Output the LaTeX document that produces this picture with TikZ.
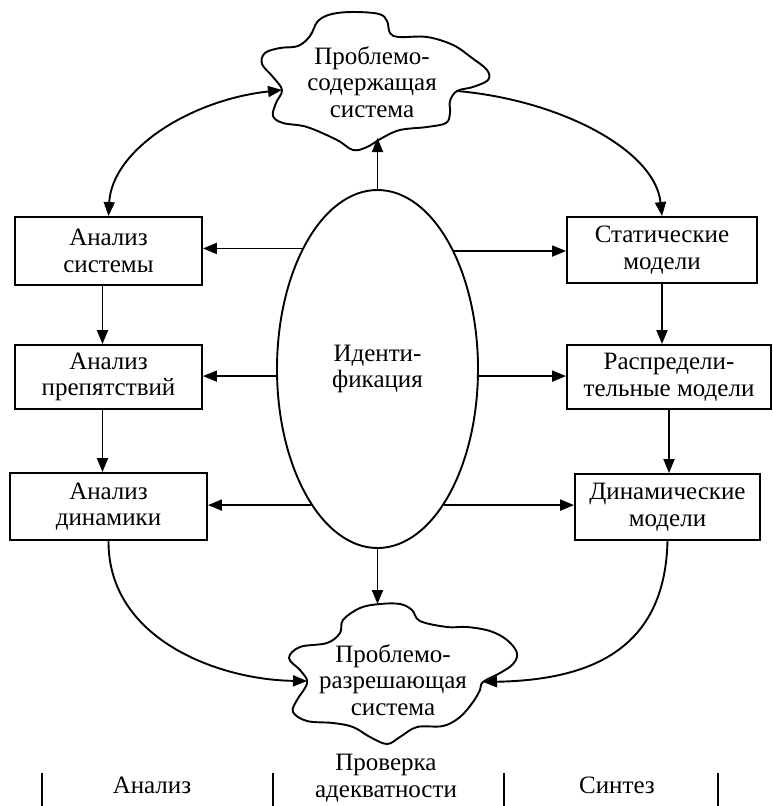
\documentclass[tikz,border=0pt]{standalone}
\usepackage{fontspec}
\setmainfont{Liberation Serif}
\usetikzlibrary{arrows.meta,shapes.geometric}
\begin{document}
\begin{tikzpicture}[x=1pt,y=-1pt,
  line width=1.9pt,
  tip/.tip={Triangle[length=14pt,width=11pt]},
  arr/.style={-{tip}},
  txt/.style={align=center, font=\fontsize{25}{26.5}\selectfont},
  box/.style={draw, txt, inner sep=0pt},
  cloud/.style={line width=1.9pt},
  ]
\useasboundingbox (0,0) rectangle (773,806);

% boxes
\node[box, minimum width=187pt, minimum height=68pt] (b1) at (108.5,251) {Анализ\\системы};
\node[box, minimum width=187pt, minimum height=64pt] (b2) at (108.5,377) {Анализ\\препятствий};
\node[box, minimum width=197pt, minimum height=67pt] (b3) at (108.5,506.5) {Анализ\\динамики};
\node[box, minimum width=190pt, minimum height=66pt] (r1) at (662,250) {Статические\\модели};
\node[box, minimum width=204pt, minimum height=64pt] (r2) at (669,377) {Распредели-\\тельные модели};
\node[box, minimum width=185pt, minimum height=66pt] (r3) at (667.5,507) {Динамические\\модели};

% ellipse
\node[draw, ellipse, minimum width=201pt, minimum height=358pt, inner sep=0pt, txt] (e) at (377.5,369) {Иденти-\\фикация};

% top cloud
\draw[cloud] plot[smooth cycle, tension=0.6] coordinates {
 (282,90) (273,77) (262,64) (265,53) (280,48) (298,46) (310,36) (318,21) (332,14) (354,12) (379,14) (387,21) (390,33) (399,37) (427,37) (453,45) (472,58) (487,70) (488,80) (473,87) (457,91) (450,101) (450,113) (446,123) (427,127) (400,130) (382,138) (367,147) (353,150) (337,140) (307,127) (283,123) (273,116) (276,103)};
\node[txt] (tc) at (372,82) {Проблемо-\\содержащая\\система};
\coordinate (tL) at (282,90);
\coordinate (tR) at (457,91);
\coordinate (tB) at (380,138);

% bottom cloud
\draw[cloud] plot[smooth cycle, tension=0.6] coordinates {
 (380,604) (400,604) (412,610) (420,621) (447,627) (467,627) (490,631) (507,640) (517,653) (513,664) (500,673) (483,682) (480,690) (473,702) (460,717) (443,726) (417,727) (400,737) (387,744) (370,737) (353,727) (333,723) (307,721) (293,712) (297,700) (305,688) (307,680) (300,670) (289,658) (300,647) (327,643) (340,633) (343,620) (360,608)};
\node[txt] (bc) at (393,680) {Проблемо-\\разрешающая\\система};
\coordinate (bT) at (380,604);
\coordinate (bL) at (307,681);
\coordinate (bR) at (483,682);

% ellipse to boxes
\draw[arr] (e.122.65) -- (e.122.65 -| b1.east);
\draw[arr] (e.184.56) -- (e.184.56 -| b2.east);
\draw[arr] (e.244.9) -- (e.244.9 -| b3.east);
\draw[arr] (e.57.7) -- (e.57.7 -| r1.west);
\draw[arr] (e.-4.56) -- (e.-4.56 -| r2.west);
\draw[arr] (e.-64.95) -- (e.-64.95 -| r3.west);

% ellipse to clouds
\draw[arr] (e.north) -- (e.north |- tB);
\draw[arr] (e.south) -- (e.south |- bT);

% vertical arrows
\draw[arr] ([xshift=-6pt]b1.south) -- ([xshift=-6pt]b2.north);
\draw[arr] ([xshift=-6pt]b2.south) -- ([xshift=-6pt]b3.north);
\draw[arr] (r1.south) -- (r1.south |- r2.north);
\draw[arr] (r2.south) -- (r2.south |- r3.north);

% curved connectors
\draw[{tip}-{tip}] (b1.north) .. controls (112,150) and (190,100) .. (tL);
\draw[arr] (tR) .. controls (560,100) and (655,150) .. (r1.north);
\draw[arr] (b3.south) .. controls (108,640) and (220,680) .. (bL);
\draw[arr] (r3.south) .. controls (665,650) and (590,680) .. (bR);

% bottom scale
\draw (42,773) -- (42,806);
\draw (273,773) -- (273,806);
\draw (504,773) -- (504,806);
\draw (718,773) -- (718,806);
\node[txt] (la) at (152,785) {Анализ};
\node[txt] (lp) at (386,778) {Проверка\\адекватности};
\node[txt] (ls) at (617,785) {Синтез};
\end{tikzpicture}
\end{document}
